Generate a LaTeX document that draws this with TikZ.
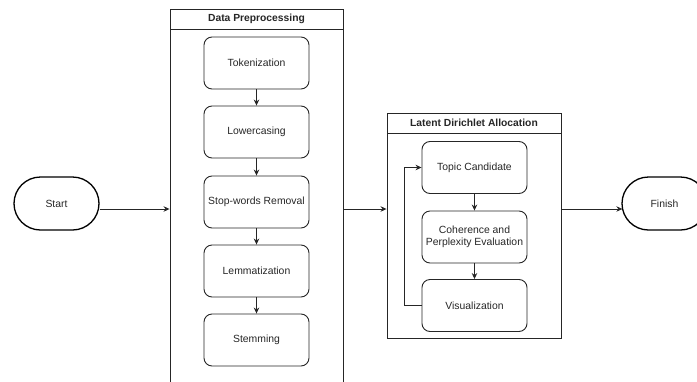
\documentclass[tikz,border=0pt]{standalone}
\usepackage{fontspec}
\setmainfont{Liberation Sans}
\usetikzlibrary{arrows.meta,shapes.misc,calc}

\begin{document}
\begin{tikzpicture}[x=1pt,y=-1pt,
  every node/.style={font=\fontsize{10.4}{12.5}\selectfont, text=black!85},
  stepbox/.style={draw=black!85, line width=0.9pt, rounded corners=8pt,
    minimum width=105pt, minimum height=52pt, inner sep=1pt, align=center},
  terminal/.style={draw=black, line width=1.3pt, rounded rectangle,
    minimum width=87pt, minimum height=53pt, inner sep=1pt},
  frame/.style={draw=black!85, line width=0.9pt, rectangle, inner sep=0pt},
  titlebar/.style={draw=black!85, line width=0.9pt, rectangle, inner sep=0pt,
    font=\bfseries\fontsize{10.3}{12}\selectfont},
  arr/.style={draw=black!85, line width=0.9pt, -{Stealth[length=6pt,width=5.5pt]}}
]
\useasboundingbox (0,0) rectangle (697,381);
\begin{scope}
\clip (0,0) rectangle (697,381);

% Data preprocessing pool
\node[frame, minimum width=173pt, minimum height=400pt] (dp) at (256.5,209) {};
\node[titlebar, minimum width=173pt, minimum height=20pt, anchor=north] (dptitle) at (dp.north) {Data Preprocessing};

\node[stepbox] (tok)  at (256.5,63)  {Tokenization};
\node[stepbox] (low)  at (256.5,132) {Lowercasing};
\node[stepbox] (stop) at (256.5,202) {Stop-words Removal};
\node[stepbox] (lem)  at (256.5,271) {Lemmatization};
\node[stepbox] (stem) at (256.5,340) {Stemming};

\draw[arr] (tok) -- (low);
\draw[arr] (low) -- (stop);
\draw[arr] (stop) -- (lem);
\draw[arr] (lem) -- (stem);

% LDA pool
\node[frame, minimum width=174pt, minimum height=225pt] (lda) at (474,225.5) {};
\node[titlebar, minimum width=174pt, minimum height=20pt, anchor=north] (ldatitle) at (lda.north) {Latent Dirichlet Allocation};

\node[stepbox] (topic) at (474.5,167.5) {Topic Candidate};
\node[stepbox] (coh)   at (474.5,237)   {Coherence and\\Perplexity Evaluation};
\node[stepbox] (vis)   at (474.5,305.5) {Visualization};

\draw[arr] (topic) -- (coh);
\draw[arr] (coh) -- (vis);
\draw[arr] (vis.west) -- ++(-17,0) |- (topic.west);

% Terminals
\node[terminal] (start)  at (56.5,203.5)  {Start};
\node[terminal] (finish) at (664.5,203.5) {Finish};

\coordinate (row) at (0,209);
\draw[arr] (start.east |- row) -- (dp.west |- row);
\draw[arr] (dp.east |- row) -- (lda.west |- row);
\draw[arr] (lda.east |- row) -- ($(finish.west |- row)+(1,0)$);
\end{scope}
\end{tikzpicture}
\end{document}
